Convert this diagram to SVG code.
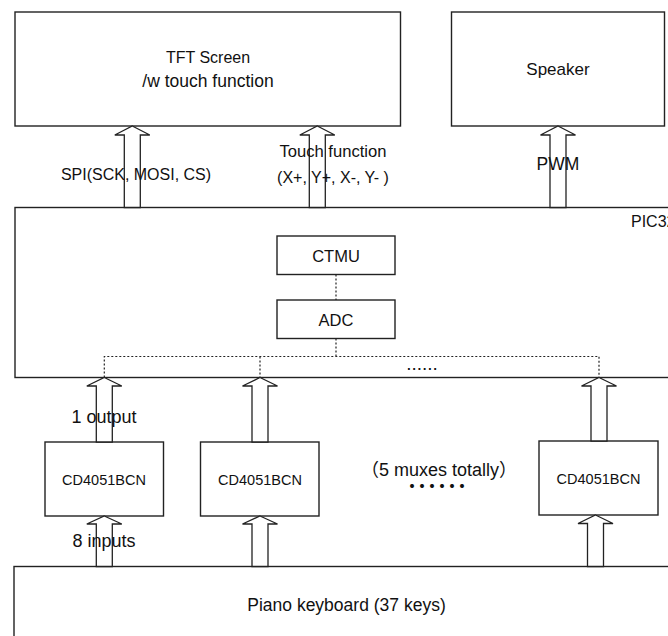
<svg xmlns="http://www.w3.org/2000/svg" width="668" height="636" viewBox="0 0 668 636">
<style>
.box{fill:#fff;stroke:#222;stroke-width:1.4}
.arr{fill:#fff;stroke:#222;stroke-width:1.3;stroke-linejoin:miter}
.dot{fill:none;stroke:#222;stroke-width:1.2;stroke-dasharray:2 2}
text{font-family:"Liberation Sans",Arial,sans-serif;font-size:16px;fill:#111}
.c{text-anchor:middle}
.sm{font-size:14.5px}
.cjk{font-family:"Noto Sans CJK SC",sans-serif}
</style>
<rect width="668" height="636" fill="#fff"/>
<g id="tft"><rect class="box" x="15" y="12" width="385.5" height="114"/>
<text class="c" x="208" y="63">TFT Screen</text>
<text class="c" x="208" y="87" style="font-size:17.5px">/w touch function</text></g>
<g id="speaker"><rect class="box" x="451.5" y="12" width="213" height="114"/>
<text class="c" x="558" y="75" style="font-size:17px">Speaker</text></g>
<g id="pic32"><rect class="box" x="15" y="207.5" width="680" height="170"/>
<text x="631" y="227">PIC32</text></g>
<g id="ctmu"><rect class="box" x="277" y="236" width="118" height="38.5"/>
<text class="c" x="336" y="261.5" style="font-size:16.5px">CTMU</text></g>
<g id="adc"><rect class="box" x="277" y="300" width="118" height="38.5"/>
<text class="c" x="336" y="325.5" style="font-size:16.5px">ADC</text></g>
<g id="mux1"><rect class="box" x="45" y="442" width="118.5" height="74"/>
<text class="c sm" x="104" y="485">CD4051BCN</text></g>
<g id="mux2"><rect class="box" x="200.5" y="442" width="118.5" height="74"/>
<text class="c sm" x="260" y="484.5">CD4051BCN</text></g>
<g id="mux3"><rect class="box" x="539" y="441" width="119" height="74"/>
<text class="c sm" x="598.5" y="484">CD4051BCN</text></g>
<g id="keyboard"><rect class="box" x="14" y="566.5" width="680" height="100"/>
<text class="c" x="346.5" y="611" style="font-size:17.5px">Piano keyboard (37 keys)</text></g>
<g id="connectors">
<path class="arr" d="M132.3,126 L149.8,135 L140.3,135 L140.3,207.5 L124.3,207.5 L124.3,135 L114.8,135 Z"/>
<path class="arr" d="M317.3,126 L334.8,135 L325.3,135 L325.3,207.5 L309.3,207.5 L309.3,135 L299.8,135 Z"/>
<path class="arr" d="M558,126 L575.5,135 L566,135 L566,207.5 L550,207.5 L550,135 L540.5,135 Z"/>
<path class="arr" d="M104.3,377.5 L121.8,386 L112.3,386 L112.3,442 L96.3,442 L96.3,386 L86.8,386 Z"/>
<path class="arr" d="M260,377.5 L277.5,386 L268,386 L268,442 L252,442 L252,386 L242.5,386 Z"/>
<path class="arr" d="M599,377.5 L616.5,386 L607,386 L607,441 L591,441 L591,386 L581.5,386 Z"/>
<path class="arr" d="M104.3,516 L121.8,524 L112.3,524 L112.3,566.5 L96.3,566.5 L96.3,524 L86.8,524 Z"/>
<path class="arr" d="M260,516 L277.5,524 L268,524 L268,566.5 L252,566.5 L252,524 L242.5,524 Z"/>
<path class="arr" d="M595.5,515 L613,523.5 L603.5,523.5 L603.5,566.5 L587.5,566.5 L587.5,523.5 L578,523.5 Z"/>
<path class="dot" d="M336,274.5 V300 M336,338.5 V356.5 M104.3,377.5 V356.5 H599 V377.5 M260,356.5 V377.5"/>
</g>
<text class="c" x="136" y="180">SPI(SCK, MOSI, CS)</text>
<text class="c" x="333" y="157" style="font-size:16.6px">Touch function</text>
<text class="c" x="333" y="182.5">(X+, Y+, X-, Y- )</text>
<text class="c" x="558" y="170" style="font-size:17.5px">PWM</text>
<text class="c" x="422" y="370" style="font-size:19px">......</text>
<text class="c" x="104" y="423" style="font-size:18px">1 output</text>
<text class="c" x="104" y="547" style="font-size:18px">8 inputs</text>
<text class="c" x="439" y="476" style="font-size:18px"><tspan class="cjk">（</tspan>5 muxes totally<tspan class="cjk">）</tspan></text>
<text class="c cjk" x="437" y="497" style="font-size:30px">……</text>
</svg>
